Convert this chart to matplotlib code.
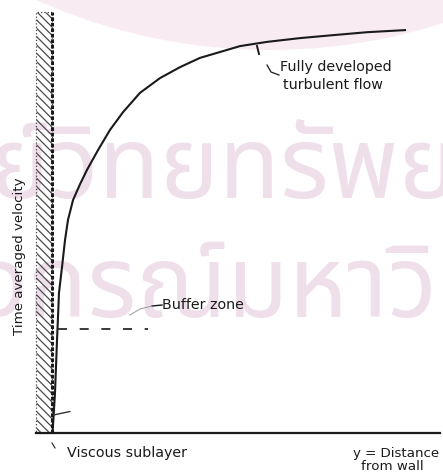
import numpy as np
import matplotlib
matplotlib.use('Agg')
import matplotlib.pyplot as plt
from matplotlib.patches import Rectangle, Circle

# Velocity profile near a wall (distance from wall vs time-averaged velocity),
# both normalised to the drawing area
distance = [0.0013, 0.0039, 0.0077, 0.0103, 0.0129, 0.0155, 0.0180, 0.0258, 0.0335,
            0.0412, 0.0541, 0.0722, 0.0902, 0.1186, 0.1495, 0.1830, 0.2268, 0.2784,
            0.3299, 0.3814, 0.4330, 0.4845, 0.5541, 0.6392, 0.7242, 0.8119, 0.9098]
velocity = [0.000, 0.038, 0.095, 0.157, 0.221, 0.276, 0.333, 0.394, 0.458,
            0.506, 0.553, 0.591, 0.625, 0.672, 0.720, 0.762, 0.808, 0.843,
            0.869, 0.891, 0.905, 0.919, 0.929, 0.938, 0.945, 0.952, 0.957]

buffer_level = 0.247      # dashed line marking the buffer zone
sublayer_level = 0.047    # small mark for the viscous sublayer
wall_thickness = 0.042

W, H = 443, 472
X0, Y0 = 52, 433          # origin of the plot in pixels
fig = plt.figure(figsize=(W / 100, H / 100), dpi=100)
fig.patch.set_facecolor('white')

# background layer in pixel units
bg = fig.add_axes([0, 0, 1, 1])
bg.set_xlim(0, W)
bg.set_ylim(H, 0)
bg.axis('off')
bg.add_patch(Circle((270, -521), 571, facecolor='#f8ecf2', edgecolor='none', zorder=0))
wm = dict(fontsize=72, color='#efdfeb', ha='center', va='center',
          family=['Noto Sans Thai', 'DejaVu Sans'], zorder=1, clip_on=True)
bg.text(237, 172, 'ศูนย์วิทยทรัพยากร', **wm)
bg.text(235, 290, 'จุฬาลงกรณ์มหาวิทยาลัย', **wm)

ax = fig.add_axes([X0 / W, (H - Y0) / H, (W - 3 - X0) / W, (Y0 - 12) / H])
ax.set_xlim(0, 1)
ax.set_ylim(0, 1)
ax.patch.set_alpha(0)
ax.axis('off')

plt.rcParams['hatch.linewidth'] = 0.9
# hatched wall
ax.add_patch(Rectangle((-wall_thickness, 0), wall_thickness, 1.0, hatch='\\\\\\\\',
                       facecolor='none', edgecolor='#4a4a4a', lw=0.9, ls=':',
                       clip_on=False))
ax.plot([0, 0], [0, 1.0], color='#1a1a1a', lw=2.2, ls=(0, (1.2, 0.6)), clip_on=False)
# distance axis
ax.plot([-wall_thickness, 1.0], [0, 0], color='#1a1a1a', lw=1.6, clip_on=False)

# velocity profile
ax.plot(distance, velocity, color='#1a1a1a', lw=1.5, clip_on=False,
        solid_joinstyle='round')

# buffer zone dashed line
ax.plot([0.016, 0.248], [buffer_level, buffer_level], color='#2a2a2a', lw=1.3,
        dashes=(5, 7))
ax.plot([0.005, 0.046], [sublayer_level - 0.004, sublayer_level + 0.004],
        color='#333333', lw=1.0)


def px(x):
    return (x - X0) / (W - 3 - X0)


def py(y):
    return (Y0 - y) / (Y0 - 12)


txt = dict(fontsize=10.3, color='#1a1a1a', family='DejaVu Sans')
ax.text(px(280), py(67), 'Fully developed', va='center', ha='left', **txt)
ax.text(px(283), py(85), 'turbulent flow', va='center', ha='left', **txt)
ax.plot([px(257), px(259)], [py(46), py(54)], color='#1a1a1a', lw=1.4)
ax.plot([px(267), px(271), px(279)], [py(65), py(72), py(75)], color='#1a1a1a', lw=0.9)

ax.text(px(162), py(305), 'Buffer zone', va='center', ha='left', **txt)
ax.plot([px(152), px(162)], [py(306), py(305)], color='#1a1a1a', lw=1.0)
ax.plot([px(130), px(140), px(152)], [py(315), py(309), py(306)], color='#999999', lw=0.7)

ax.text(px(67), py(453), 'Viscous sublayer', va='center', ha='left', clip_on=False, **txt)
ax.plot([px(52), px(55)], [py(443), py(448)], color='#1a1a1a', lw=0.8, clip_on=False)

small = dict(txt, fontsize=9.6)
ax.text(px(396), py(454), 'y = Distance', va='center', ha='center', clip_on=False, **small)
ax.text(px(392), py(466), 'from wall', va='center', ha='center', clip_on=False, **small)

bg.text(20, 256, 'Time averaged velocity', rotation=90, va='center', ha='center',
        zorder=5, fontsize=9.6, color='#1a1a1a', family='DejaVu Sans')

fig.savefig('out.png', dpi=100)
